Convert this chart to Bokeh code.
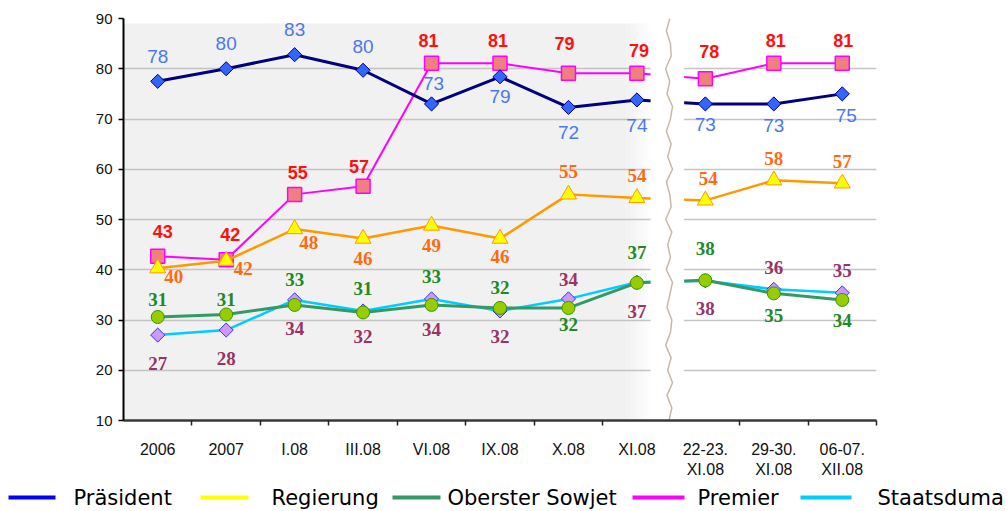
from bokeh.plotting import figure
from bokeh.layouts import column
from bokeh.models import Range1d, FixedTicker, ColumnDataSource
from bokeh.core.properties import value
from bokeh.embed import file_html
from bokeh.resources import INLINE

# ---------------- data ----------------
categories = ["2006", "2007", "I.08", "III.08", "VI.08", "IX.08", "X.08", "XI.08",
              "22-23.\nXI.08", "29-30.\nXI.08", "06-07.\nXII.08"]

praesident = [77.5, 80.0, 82.8, 79.7, 73.0, 78.4, 72.3, 73.8, 73.0, 73.0, 75.0]
praesident_lbl = ["78", "80", "83", "80", "73", "79", "72", "74", "73", "73", "75"]

premier = [42.7, 42.0, 55.0, 56.6, 81.1, 81.1, 79.1, 79.1, 78.0, 81.1, 81.1]
premier_lbl = ["43", "42", "55", "57", "81", "81", "79", "79", "78", "81", "81"]

regierung = [40.3, 41.8, 48.1, 46.2, 48.8, 46.2, 55.0, 54.3, 53.8, 57.8, 57.2]
regierung_lbl = ["40", "42", "48", "46", "49", "46", "55", "54", "54", "58", "57"]

sowjet = [30.6, 31.1, 33.0, 31.5, 33.0, 32.4, 32.4, 37.4, 37.9, 35.3, 34.0]
sowjet_lbl = ["31", "31", "33", "31", "33", "32", "32", "37", "38", "35", "34"]

duma = [27.0, 28.0, 34.0, 31.8, 34.2, 31.8, 34.2, 37.5, 37.8, 36.1, 35.4]
duma_lbl = ["27", "28", "34", "32", "34", "32", "34", "37", "38", "36", "35"]

legend_names = ["Präsident", "Regierung", "Oberster Sowjet", "Premier", "Staatsduma"]
y_ticks = [10, 20, 30, 40, 50, 60, 70, 80, 90]

# ---------------- label placement (screen px) ----------------
praesident_dx = [0, 0, 0, 0, 2, 0, 0, 0, 0, 0, 4]
praesident_dy = [-25, -25, -25, -24, -20, 20, 25, 26, 21, 22, 22]
premier_dx = [5, 4, 3, -4, -3, -2, -4, 2, 4, 2, 1]
premier_dy = [-25, -25, -22, -20, -23, -23, -30, -23, -27, -23, -23]
regierung_dx = [16, 17, 14, 0, 0, 0, 0, 0, 3, 0, 0]
regierung_dy = [8, 8, 13, 20, 20, 18, -23, -22, -22, -22, -22]
sowjet_dx = [0] * 11
sowjet_dy = [-17, -15, -25, -24, -28, -20, 17, -30, -32, 22, 21]
duma_dx = [0] * 11
duma_dy = [28, 28, 29, 26, 31, 26, -19, 29, 28, -22, -22]

xs = [i + 0.5 for i in range(len(categories))]

W, H = 1005, 480
FL, FR, FT, FB = 123, 876, 18, 423   # frame edges inside the canvas
p = figure(width=W, height=H, x_range=Range1d(0, 11), y_range=Range1d(10, 90),
           output_backend="svg", toolbar_location=None,
           min_border_left=FL, min_border_right=W - FR, min_border_top=FT,
           min_border_bottom=H - FB)
p.frame_align = False
p.outline_line_color = None
p.background_fill_color = "white"
p.border_fill_color = "white"

# grey plot-area background with a fading right edge
p.quad(left=0, right=7.35, bottom=10, top=89, fill_color="#f1f1f1", line_color=None, level="image")
fade = ["#f2f2f2", "#f4f4f4", "#f6f6f6", "#f8f8f8", "#fafafa", "#fcfcfc", "#fefefe"]
step = (7.72 - 7.35) / len(fade)
for k, c in enumerate(fade):
    p.quad(left=7.35 + k * step, right=7.35 + (k + 1) * step + 0.002, bottom=10, top=89,
           fill_color=c, line_color=None, level="image")

# grid
p.xgrid.grid_line_color = None
p.ygrid.ticker = FixedTicker(ticks=y_ticks)
p.ygrid.grid_line_color = "#c4c4c4"
p.ygrid.grid_line_width = 1.6

# axes
p.yaxis.ticker = FixedTicker(ticks=y_ticks)
p.yaxis.axis_line_color = "black"
p.yaxis.axis_line_width = 2
p.yaxis.major_tick_out = 5
p.yaxis.major_tick_in = 0
p.yaxis.major_tick_line_color = "black"
p.yaxis.major_tick_line_width = 1.5
p.yaxis.minor_tick_line_color = None
p.yaxis.major_label_standoff = 6
p.yaxis.major_label_text_font = "Liberation Sans"
p.yaxis.major_label_text_font_size = "15px"
p.yaxis.major_label_text_color = "#111111"

p.xaxis.ticker = FixedTicker(ticks=xs, minor_ticks=[1, 2, 3, 4, 5, 6, 7, 9, 10, 11])
p.xaxis.major_label_overrides = {x: c for x, c in zip(xs, categories)}
p.xaxis.axis_line_color = "#383838"
p.xaxis.axis_line_width = 2.5
p.xaxis.major_tick_out = 0
p.xaxis.major_tick_in = 0
p.xaxis.minor_tick_out = 5
p.xaxis.minor_tick_in = 0
p.xaxis.minor_tick_line_color = "#222222"
p.xaxis.minor_tick_line_width = 1.5
p.xaxis.major_label_standoff = 15
p.xaxis.major_label_text_font = "Liberation Sans"
p.xaxis.major_label_text_font_size = "16px"
p.xaxis.major_label_text_color = "#111111"


def series(vals, line_color, line_width, marker, size, fill, mline, angle=0.0, mlw=1.0):
    p.line(xs, vals, line_color=line_color, line_width=line_width)
    p.scatter(xs, vals, marker=marker, size=size, fill_color=fill, line_color=mline,
              line_width=mlw, angle=angle)


diam = 0.785398
series(duma, "#00ccff", 2.5, "square", 10, "#cc99ff", "#3333ff", angle=diam)
series(sowjet, "#339966", 3, "circle", 13, "#99cc00", "#339900")
series(premier, "#ff00ff", 2, "square", 14, "#f08080", "#ff00ff", mlw=1.5)
series(regierung, "#ff9900", 2.5, "triangle", 16, "#ffff00", "#ff9900")
series(praesident, "#000080", 3, "square", 10, "#3366ff", "#000080", angle=diam)

# break of the time axis
p.quad(left=7.70, right=8.19, bottom=10, top=90, fill_color="white", line_color=None)
wave_dx = [0, .04, -.03, .05, -.02, .03, -.05, .02, .04, -.03, .01, .05, -.04, .02, -.02,
           .04, -.05, .03, .01, -.04, .05, -.02, .03, -.04, .02, .05, -.03, .01, -.05, .03,
           .02, -.04, .01]
wave_y = [10 + 80 * k / (len(wave_dx) - 1) for k in range(len(wave_dx))]
p.line([7.97 + d for d in wave_dx], wave_y, line_color="#c8b8a8", line_width=1.5)


def labels(vals, lbls, dx, dy, color, font, size, style):
    src = ColumnDataSource(dict(x=xs, y=vals, t=lbls, dx=dx, dy=dy))
    p.text(x="x", y="y", text="t", x_offset="dx", y_offset="dy", source=src,
           text_color=color, text_font=value(font), text_font_size=size,
           text_font_style=style, text_align="center", text_baseline="middle")


labels(duma, duma_lbl, duma_dx, duma_dy, "#993366", "Liberation Serif", "19px", "bold")
labels(sowjet, sowjet_lbl, sowjet_dx, sowjet_dy, "#1f8a1f", "Liberation Serif", "19px", "bold")
labels(regierung, regierung_lbl, regierung_dx, regierung_dy, "#ff6a10", "Liberation Serif", "19px", "bold")
labels(premier, premier_lbl, premier_dx, premier_dy, "#ff1010", "Liberation Sans", "18px", "bold")
labels(praesident, praesident_lbl, praesident_dx, praesident_dy, "#4a78ee", "Liberation Sans", "19px", "normal")

# ---------------- legend strip (own canvas, pixel coordinates) ----------------
LH = 31
lg = figure(width=W, height=LH, x_range=Range1d(0, W), y_range=Range1d(0, LH),
            x_axis_type=None, y_axis_type=None, output_backend="svg",
            toolbar_location=None, min_border=0)
lg.frame_align = False
lg.outline_line_color = None
lg.grid.visible = False
legend_colors = ["#0000ff", "#ffff00", "#339966", "#ff00ff", "#00ccff"]
seg_x0 = [8, 200, 392, 632, 800]
seg_len = [47, 48, 48, 52, 51]
txt_x = [73, 271, 447, 697, 877]
lg.segment(x0=seg_x0, y0=[14] * 5, x1=[a + b for a, b in zip(seg_x0, seg_len)], y1=[14] * 5,
           line_color=legend_colors, line_width=4)
lg.text(x=txt_x, y=[14] * 5, text=legend_names, text_font=value("DejaVu Sans"),
        text_font_size="21px", text_color="black", text_baseline="middle", text_align="left")

layout = column(p, lg, spacing=0)
open("out.html", "w").write(file_html(layout, INLINE))
